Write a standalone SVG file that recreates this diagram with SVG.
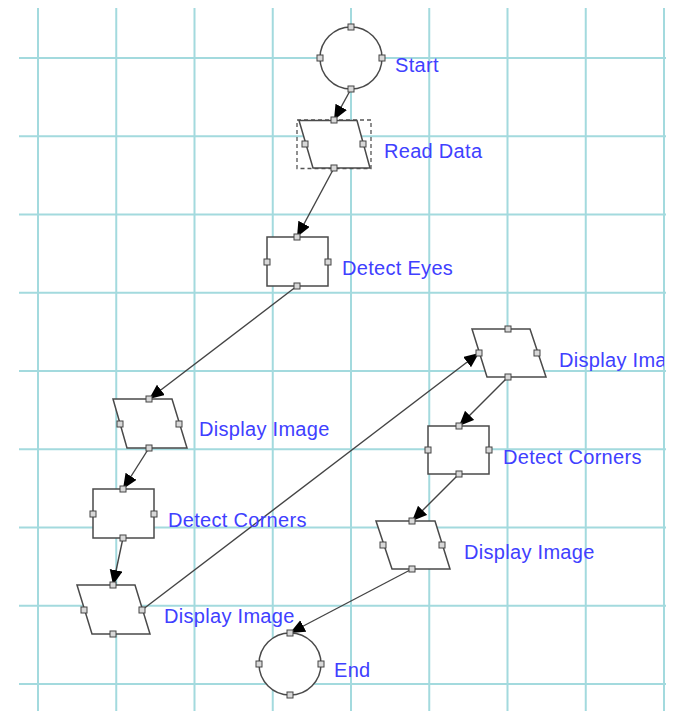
<svg xmlns="http://www.w3.org/2000/svg" width="674" height="711" viewBox="0 0 674 711">
<defs>
<style>
.grid line{stroke:#a3dade;stroke-width:2}
.sh{fill:#fff;stroke:#4a4a4a;stroke-width:1.5}
.dash{fill:none;stroke:#555;stroke-width:1.3;stroke-dasharray:4 3}
.pt{fill:#d8d8d8;stroke:#444;stroke-width:1}
.lbl{font-family:"Liberation Sans",Arial,sans-serif;font-size:20px;letter-spacing:0.3px;fill:#4040ff}
.cn{fill:none;stroke:#444;stroke-width:1.4;marker-end:url(#ah)}
</style>
<marker id="ah" markerUnits="userSpaceOnUse" markerWidth="18" markerHeight="16" refX="15" refY="6.5" orient="auto">
<path d="M0,0 L15,6.5 L0,13 Z" fill="#000"/>
</marker>
<clipPath id="cl"><rect x="0" y="0" width="664" height="711"/></clipPath>
</defs>
<rect width="674" height="711" fill="#fff"/>
<g class="grid">
<line x1="38" y1="8" x2="38" y2="711"/>
<line x1="116.25" y1="8" x2="116.25" y2="711"/>
<line x1="194.5" y1="8" x2="194.5" y2="711"/>
<line x1="272.75" y1="8" x2="272.75" y2="711"/>
<line x1="351" y1="8" x2="351" y2="711"/>
<line x1="429.25" y1="8" x2="429.25" y2="711"/>
<line x1="507.5" y1="8" x2="507.5" y2="711"/>
<line x1="585.75" y1="8" x2="585.75" y2="711"/>
<line x1="664" y1="8" x2="664" y2="711"/>
<line x1="19" y1="58" x2="666" y2="58"/>
<line x1="19" y1="136.25" x2="666" y2="136.25"/>
<line x1="19" y1="214.5" x2="666" y2="214.5"/>
<line x1="19" y1="292.75" x2="666" y2="292.75"/>
<line x1="19" y1="371" x2="666" y2="371"/>
<line x1="19" y1="449.25" x2="666" y2="449.25"/>
<line x1="19" y1="527.5" x2="666" y2="527.5"/>
<line x1="19" y1="605.75" x2="666" y2="605.75"/>
<line x1="19" y1="684" x2="666" y2="684"/>
</g>
<g id="connectors">
<line class="cn" x1="351" y1="89" x2="334" y2="120"/>
<line class="cn" x1="334" y1="168" x2="297" y2="237"/>
<line class="cn" x1="297" y1="286" x2="149" y2="399"/>
<line class="cn" x1="149" y1="448" x2="123" y2="489"/>
<line class="cn" x1="123" y1="538" x2="113" y2="585"/>
<line class="cn" x1="142" y1="610" x2="479" y2="353"/>
<line class="cn" x1="508" y1="377" x2="459" y2="426"/>
<line class="cn" x1="459" y1="474" x2="412" y2="521"/>
<line class="cn" x1="412" y1="569" x2="290" y2="633"/>
</g>
<g id="start">
<circle class="sh" cx="351" cy="58" r="31"/>
<rect class="pt" x="348" y="24" width="6" height="6"/>
<rect class="pt" x="348" y="86" width="6" height="6"/>
<rect class="pt" x="317" y="55" width="6" height="6"/>
<rect class="pt" x="379" y="55" width="6" height="6"/>
<text class="lbl" x="395" y="72">Start</text>
</g>
<g id="read-data">
<rect class="dash" x="297" y="120" width="74" height="48.5"/>
<polygon class="sh" points="299,120.5 357,120.5 370,168 313,168"/>
<rect class="pt" x="331" y="117" width="6" height="6"/>
<rect class="pt" x="331" y="165" width="6" height="6"/>
<rect class="pt" x="302" y="141" width="6" height="6"/>
<rect class="pt" x="360" y="141" width="6" height="6"/>
<text class="lbl" x="384" y="158">Read Data</text>
</g>
<g id="detect-eyes">
<rect class="sh" x="267" y="237" width="61" height="49"/>
<rect class="pt" x="294" y="234" width="6" height="6"/>
<rect class="pt" x="294" y="283" width="6" height="6"/>
<rect class="pt" x="264" y="259" width="6" height="6"/>
<rect class="pt" x="325" y="259" width="6" height="6"/>
<text class="lbl" x="342" y="275">Detect Eyes</text>
</g>
<g id="display-image-1">
<polygon class="sh" points="113,399 172,399 187,448 127,448"/>
<rect class="pt" x="146" y="396" width="6" height="6"/>
<rect class="pt" x="146" y="445" width="6" height="6"/>
<rect class="pt" x="117" y="421" width="6" height="6"/>
<rect class="pt" x="176" y="421" width="6" height="6"/>
<text class="lbl" x="199" y="436">Display Image</text>
</g>
<g id="detect-corners-1">
<rect class="sh" x="93" y="489" width="61" height="49"/>
<rect class="pt" x="120" y="486" width="6" height="6"/>
<rect class="pt" x="120" y="535" width="6" height="6"/>
<rect class="pt" x="90" y="511" width="6" height="6"/>
<rect class="pt" x="151" y="511" width="6" height="6"/>
<text class="lbl" x="168" y="527">Detect Corners</text>
</g>
<g id="display-image-2">
<polygon class="sh" points="77,585 135,585 150,634 92,634"/>
<rect class="pt" x="110" y="582" width="6" height="6"/>
<rect class="pt" x="110" y="631" width="6" height="6"/>
<rect class="pt" x="81" y="607" width="6" height="6"/>
<rect class="pt" x="139" y="607" width="6" height="6"/>
<text class="lbl" x="164" y="623">Display Image</text>
</g>
<g id="display-image-3">
<polygon class="sh" points="472,329 530,329 546,377 487,377"/>
<rect class="pt" x="505" y="326" width="6" height="6"/>
<rect class="pt" x="505" y="374" width="6" height="6"/>
<rect class="pt" x="476" y="350" width="6" height="6"/>
<rect class="pt" x="534" y="350" width="6" height="6"/>
<text class="lbl" x="559" y="367" clip-path="url(#cl)">Display Ima</text>
</g>
<g id="detect-corners-2">
<rect class="sh" x="428" y="426" width="61" height="48"/>
<rect class="pt" x="456" y="423" width="6" height="6"/>
<rect class="pt" x="456" y="471" width="6" height="6"/>
<rect class="pt" x="425" y="447" width="6" height="6"/>
<rect class="pt" x="486" y="447" width="6" height="6"/>
<text class="lbl" x="503" y="464">Detect Corners</text>
</g>
<g id="display-image-4">
<polygon class="sh" points="376,521 435,521 450,569 392,569"/>
<rect class="pt" x="409" y="518" width="6" height="6"/>
<rect class="pt" x="409" y="566" width="6" height="6"/>
<rect class="pt" x="380" y="542" width="6" height="6"/>
<rect class="pt" x="439" y="542" width="6" height="6"/>
<text class="lbl" x="464" y="559">Display Image</text>
</g>
<g id="end">
<circle class="sh" cx="290" cy="664" r="31"/>
<rect class="pt" x="287" y="630" width="6" height="6"/>
<rect class="pt" x="287" y="692" width="6" height="6"/>
<rect class="pt" x="256" y="661" width="6" height="6"/>
<rect class="pt" x="318" y="661" width="6" height="6"/>
<text class="lbl" x="334" y="677">End</text>
</g>
</svg>
